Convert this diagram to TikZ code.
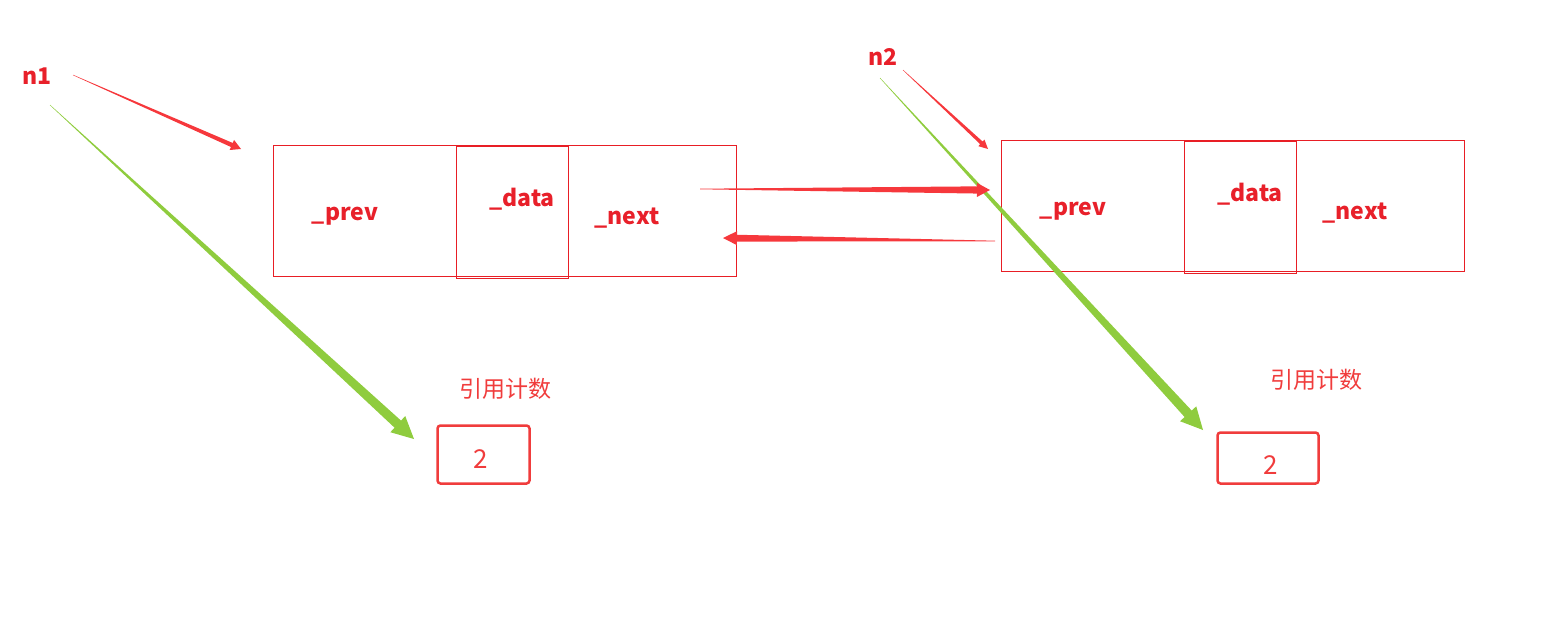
\documentclass[tikz,border=0pt]{standalone}
\usepackage{fontspec}
\setmainfont{Noto Sans CJK SC}
\usetikzlibrary{calc}
\definecolor{boxred}{RGB}{232,30,37}
\definecolor{arrred}{RGB}{246,56,60}
\definecolor{arrgreen}{RGB}{143,204,62}
\definecolor{txtred}{RGB}{232,32,42}
\definecolor{cntred}{RGB}{240,60,60}
\newcommand\taperarrow[7]{%
  \coordinate (tmpH) at ($(#2)!#5!(#1)$);
  \fill[#7] ($(#1)!#3!90:(#2)$) -- ($(tmpH)!#4!-90:(#1)$) -- ($(tmpH)!#6!-90:(#1)$) -- (#2)
     -- ($(tmpH)!#6!90:(#1)$) -- ($(tmpH)!#4!90:(#1)$) -- ($(#1)!#3!-90:(#2)$) -- cycle;}
\tikzset{
  cell/.style={draw=boxred, line width=1pt, inner sep=0pt},
  datacell/.style={draw=boxred, line width=1pt, inner sep=0pt},
  field/.style={text=txtred, font=\fontsize{23}{26}\selectfont\bfseries, inner sep=0pt},
  ptr/.style={text=txtred, font=\fontsize{23}{26}\selectfont\bfseries, inner sep=0pt},
  cntlabel/.style={text=cntred, font=\fontsize{23}{26}\selectfont, inner sep=0pt},
  cntbox/.style={draw=cntred, line width=2.5pt, rounded corners=3pt, inner sep=0pt, text=cntred, font=\fontsize{26}{28}\selectfont},
}
\begin{document}
\begin{tikzpicture}[x=1pt,y=-1pt]
\useasboundingbox (0,0) rectangle (1557,627);
% node 1
\node[cell, minimum width=463pt, minimum height=131pt] (box1) at (504.5,210.5) {};
\node[datacell, minimum width=112pt, minimum height=132pt] (data1) at (512,212) {};
\node[field] (prev1) at (345,216) {\_prev};
\node[field] (dat1) at (522,199) {\_data};
\node[field] (next1) at (627,218) {\_next};
% node 2
\node[cell, minimum width=463pt, minimum height=131pt] (box2) at (1232.5,205.5) {};
\node[datacell, minimum width=112pt, minimum height=132pt] (data2) at (1240,207) {};
\node[field] (prev2) at (1073,211) {\_prev};
\node[field] (dat2) at (1250,194) {\_data};
\node[field] (next2) at (1355,213) {\_next};
% pointers
\node[ptr] (n1) at (37,76) {n1};
\node[ptr] (n2) at (883,57) {n2};
% counts
\node[cntlabel] (lab1) at (505,389) {引用计数};
\node[cntlabel] (lab2) at (1316,380) {引用计数};
\node[cntbox, minimum width=92pt, minimum height=58pt] (cnt1) at (483.5,454.5) {};
\node[cntbox, minimum width=101pt, minimum height=51pt] (cnt2) at (1268,458) {};
\node[text=cntred, font=\fontsize{26}{28}\selectfont, inner sep=0pt] (two1) at (481,459) {2};
\node[text=cntred, font=\fontsize{26}{28}\selectfont, inner sep=0pt] (two2) at (1271,465) {2};
% arrow coordinates
\coordinate (n1r) at (73,75);
\coordinate (n1rt) at (241,149);
\coordinate (n1g) at (50,105);
\coordinate (n1gt) at (414,439);
\coordinate (n2r) at (903,70);
\coordinate (n2rt) at (988,149);
\coordinate (n2g) at (880,78);
\coordinate (n2gt) at (1203,430);
\coordinate (nx) at (700,189);
\coordinate (nxt) at (990,190);
\coordinate (pv) at (995,241);
\coordinate (pvt) at (723,238);
% arrows
\taperarrow{n1g}{n1gt}{0.2pt}{4.8pt}{22pt}{11pt}{arrgreen}
\taperarrow{n2g}{n2gt}{0.2pt}{4.8pt}{22pt}{11pt}{arrgreen}
\taperarrow{n1r}{n1rt}{0.2pt}{2.2pt}{10pt}{5.5pt}{arrred}
\taperarrow{n2r}{n2rt}{0.2pt}{1.8pt}{9pt}{4.5pt}{arrred}
\taperarrow{nx}{nxt}{0.3pt}{3.6pt}{13pt}{7pt}{arrred}
\taperarrow{pv}{pvt}{0.3pt}{3.4pt}{14pt}{7pt}{arrred}
\end{tikzpicture}
\end{document}
